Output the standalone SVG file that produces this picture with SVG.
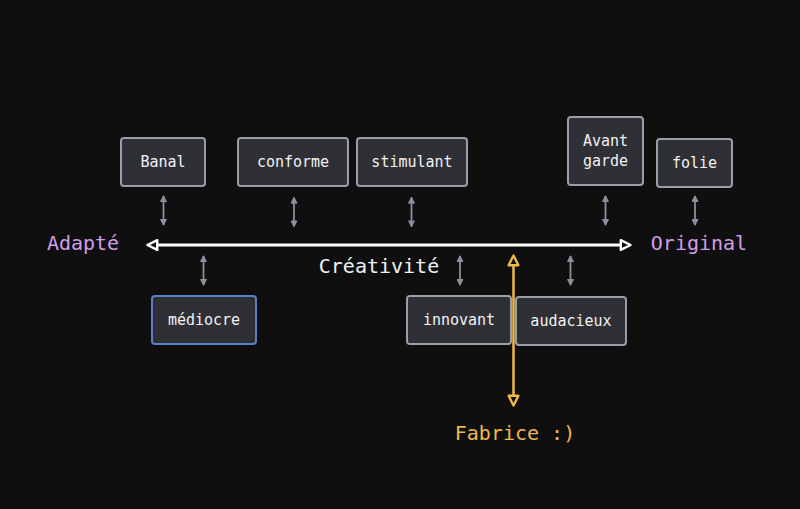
<svg xmlns="http://www.w3.org/2000/svg" width="800" height="509" viewBox="0 0 800 509">
<defs>
<style>
.box rect{fill:#2e3035;stroke:#9a9ea8;stroke-width:2}
.box text{font-family:"DejaVu Sans Mono","Liberation Mono",monospace;font-size:15px;fill:#f2f2f2;text-anchor:middle}
.lbl{font-family:"DejaVu Sans Mono","Liberation Mono",monospace;font-size:20px;text-anchor:middle}
.small{stroke:#8c909c;stroke-width:1.8;fill:none;marker-start:url(#sa);marker-end:url(#sa)}
</style>
<marker id="sa" viewBox="0 0 10 10" refX="9" refY="5" markerWidth="7" markerHeight="7" orient="auto-start-reverse" markerUnits="userSpaceOnUse">
<path d="M1,1 L9,5 L1,9 Z" fill="#8c909c" stroke="#8c909c" stroke-width="1.5" stroke-linejoin="round"/>
</marker>
<marker id="wa" viewBox="0 0 12 12" refX="10" refY="6" markerWidth="13" markerHeight="13" orient="auto-start-reverse" markerUnits="userSpaceOnUse">
<path d="M1.5,1.5 L10.5,6 L1.5,10.5 Z" fill="#111" stroke="#ffffff" stroke-width="2.2" stroke-linejoin="round"/>
</marker>
<marker id="ya" viewBox="0 0 12 12" refX="10" refY="6" markerWidth="13" markerHeight="13" orient="auto-start-reverse" markerUnits="userSpaceOnUse">
<path d="M1.5,1.5 L10.5,6 L1.5,10.5 Z" fill="#111" stroke="#f0b84a" stroke-width="2.2" stroke-linejoin="round"/>
</marker>
</defs>
<rect width="800" height="509" fill="#0f0f10"/>

<g id="n-banal" class="box"><rect x="121" y="138" width="84" height="48" rx="3"/><text x="163" y="167">Banal</text></g>
<g id="n-conforme" class="box"><rect x="238" y="138" width="110" height="48" rx="3"/><text x="293" y="167">conforme</text></g>
<g id="n-stimulant" class="box"><rect x="357" y="138" width="110" height="48" rx="3"/><text x="412" y="167">stimulant</text></g>
<g id="n-avantgarde" class="box"><rect x="568" y="117" width="75" height="68" rx="3"/><text x="605.5" y="146">Avant</text><text x="605.5" y="166">garde</text></g>
<g id="n-folie" class="box"><rect x="657" y="139" width="75" height="48" rx="3"/><text x="694.5" y="168">folie</text></g>
<g id="n-mediocre" class="box"><rect x="152" y="296" width="104" height="48" rx="3" style="stroke:#5b7fc4"/><text x="204" y="325">médiocre</text></g>
<g id="n-innovant" class="box"><rect x="407" y="296" width="104" height="48" rx="3"/><text x="459" y="325">innovant</text></g>
<g id="n-audacieux" class="box"><rect x="516" y="297" width="110" height="48" rx="3"/><text x="571" y="326">audacieux</text></g>

<g id="labels">
<text class="lbl" x="83" y="250" fill="#d29ee6">Adapté</text>
<text class="lbl" x="699" y="250" fill="#d29ee6">Original</text>
<text class="lbl" x="379" y="273" fill="#f2f2f2">Créativité</text>
<text class="lbl" x="515" y="440" fill="#f0b84a">Fabrice :)</text>
</g>

<g id="connectors">
<line x1="148" y1="245" x2="630" y2="245" stroke="#ffffff" stroke-width="3" marker-start="url(#wa)" marker-end="url(#wa)"/>
<line class="small" x1="163.5" y1="196" x2="163.5" y2="225"/>
<line class="small" x1="294" y1="197.5" x2="294" y2="226.5"/>
<line class="small" x1="411.5" y1="197.5" x2="411.5" y2="226.5"/>
<line class="small" x1="605.5" y1="196" x2="605.5" y2="225"/>
<line class="small" x1="695" y1="196" x2="695" y2="225"/>
<line class="small" x1="203.5" y1="256" x2="203.5" y2="285"/>
<line class="small" x1="460" y1="256" x2="460" y2="285"/>
<line class="small" x1="570.5" y1="256" x2="570.5" y2="285"/>
<line x1="513.5" y1="256" x2="513.5" y2="405" stroke="#f0b84a" stroke-width="2.5" marker-start="url(#ya)" marker-end="url(#ya)"/>
</g>
</svg>
